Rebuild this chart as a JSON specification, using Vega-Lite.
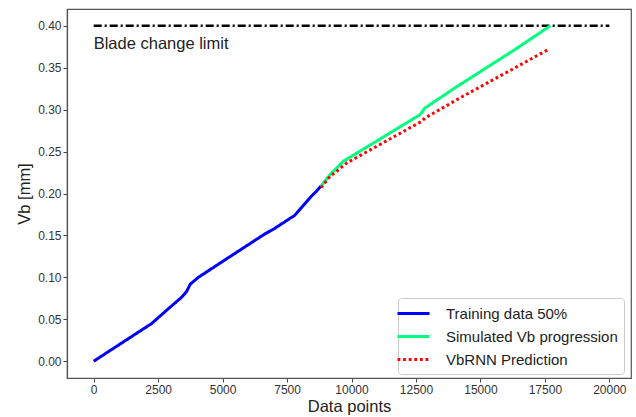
{
  "$schema": "https://vega.github.io/schema/vega-lite/v6.json",
  "width": 564,
  "height": 369,
  "autosize": {"type": "none"},
  "padding": {"left": 67, "top": 9, "right": 5, "bottom": 39},
  "background": "white",
  "config": {
    "font": "Liberation Sans",
    "view": {"stroke": "#555555", "strokeWidth": 1.2},
    "axis": {
      "grid": false,
      "domainColor": "#555555",
      "domainWidth": 1.2,
      "tickColor": "#444444",
      "tickSize": 4,
      "labelColor": "#333333",
      "labelFont": "Liberation Sans",
      "labelFontSize": 12,
      "labelPadding": 2,
      "titleFont": "Liberation Sans",
      "titleFontSize": 16.5,
      "titleFontWeight": "normal",
      "titleColor": "#222222"
    },
    "legend": {
      "labelFont": "Liberation Sans",
      "labelFontSize": 15,
      "labelColor": "#222222",
      "labelLimit": 400
    }
  },
  "datasets": {
    "curves": [
      {"x": 0, "y": 0.0, "series": "Training data 50%"},
      {"x": 1000, "y": 0.020, "series": "Training data 50%"},
      {"x": 2250, "y": 0.045, "series": "Training data 50%"},
      {"x": 2800, "y": 0.060, "series": "Training data 50%"},
      {"x": 3400, "y": 0.076, "series": "Training data 50%"},
      {"x": 3600, "y": 0.083, "series": "Training data 50%"},
      {"x": 3750, "y": 0.092, "series": "Training data 50%"},
      {"x": 4060, "y": 0.100, "series": "Training data 50%"},
      {"x": 5000, "y": 0.119, "series": "Training data 50%"},
      {"x": 6000, "y": 0.139, "series": "Training data 50%"},
      {"x": 6600, "y": 0.151, "series": "Training data 50%"},
      {"x": 7000, "y": 0.158, "series": "Training data 50%"},
      {"x": 7800, "y": 0.174, "series": "Training data 50%"},
      {"x": 8000, "y": 0.181, "series": "Training data 50%"},
      {"x": 8450, "y": 0.197, "series": "Training data 50%"},
      {"x": 8650, "y": 0.203, "series": "Training data 50%"},
      {"x": 8820, "y": 0.209, "series": "Training data 50%"},
      {"x": 8820, "y": 0.209, "series": "Simulated Vb progression"},
      {"x": 9166, "y": 0.2224, "series": "Simulated Vb progression"},
      {"x": 9682, "y": 0.2384, "series": "Simulated Vb progression"},
      {"x": 11000, "y": 0.263, "series": "Simulated Vb progression"},
      {"x": 12657, "y": 0.294, "series": "Simulated Vb progression"},
      {"x": 12851, "y": 0.302, "series": "Simulated Vb progression"},
      {"x": 14014, "y": 0.326, "series": "Simulated Vb progression"},
      {"x": 16342, "y": 0.3717, "series": "Simulated Vb progression"},
      {"x": 17710, "y": 0.400, "series": "Simulated Vb progression"},
      {"x": 8820, "y": 0.207, "series": "VbRNN Prediction"},
      {"x": 9166, "y": 0.2204, "series": "VbRNN Prediction"},
      {"x": 9426, "y": 0.2264, "series": "VbRNN Prediction"},
      {"x": 9814, "y": 0.2364, "series": "VbRNN Prediction"},
      {"x": 12723, "y": 0.2861, "series": "VbRNN Prediction"},
      {"x": 12851, "y": 0.290, "series": "VbRNN Prediction"},
      {"x": 14209, "y": 0.314, "series": "VbRNN Prediction"},
      {"x": 17634, "y": 0.3717, "series": "VbRNN Prediction"}
    ],
    "limit": [
      {"x": 0, "y": 0.4},
      {"x": 20000, "y": 0.4}
    ],
    "label": [
      {"x": 0, "y": 0.378, "text": "Blade change limit"}
    ]
  },
  "layer": [
    {
      "data": {"name": "limit"},
      "mark": {"type": "line", "color": "black", "strokeWidth": 2.6, "strokeDash": [8, 3, 2, 3]},
      "encoding": {
        "x": {"field": "x", "type": "quantitative", "scale": {"domain": [-1035, 20840], "nice": false, "zero": false},
              "axis": {"title": "Data points", "values": [0, 2500, 5000, 7500, 10000, 12500, 15000, 17500, 20000], "format": "d", "titlePadding": 3}},
        "y": {"field": "y", "type": "quantitative", "scale": {"domain": [-0.02, 0.42], "nice": false, "zero": false},
              "axis": {"title": "Vb [mm]", "values": [0, 0.05, 0.1, 0.15, 0.2, 0.25, 0.3, 0.35, 0.4], "format": ".2f", "titlePadding": 5}}
      }
    },
    {
      "data": {"name": "curves"},
      "mark": {"type": "line", "strokeWidth": 3},
      "encoding": {
        "x": {"field": "x", "type": "quantitative"},
        "y": {"field": "y", "type": "quantitative"},
        "color": {
          "field": "series", "type": "nominal",
          "scale": {"domain": ["Training data 50%", "Simulated Vb progression", "VbRNN Prediction"],
                    "range": ["#0000ff", "#00ff7f", "#ff0000"]},
          "legend": {
            "title": null, "orient": "none", "legendX": 331, "legendY": 289,
            "symbolType": "M-2,0H2", "symbolSize": 256, "symbolStrokeWidth": 3,
            "rowPadding": 5, "padding": 6, "labelOffset": 23,
            "fillColor": "white", "strokeColor": "#cccccc", "cornerRadius": 3
          }
        },
        "strokeDash": {
          "field": "series", "type": "nominal",
          "scale": {"domain": ["Training data 50%", "Simulated Vb progression", "VbRNN Prediction"],
                    "range": [[1, 0], [1, 0], [2.8, 2.8]]},
          "legend": {
            "title": null, "orient": "none", "legendX": 331, "legendY": 289,
            "symbolType": "M-2,0H2", "symbolSize": 256, "symbolStrokeWidth": 3,
            "rowPadding": 5, "padding": 6, "labelOffset": 23,
            "fillColor": "white", "strokeColor": "#cccccc", "cornerRadius": 3
          }
        }
      }
    },
    {
      "data": {"name": "label"},
      "mark": {"type": "text", "align": "left", "baseline": "middle", "fontSize": 16.5, "color": "#222222", "font": "Liberation Sans"},
      "encoding": {
        "x": {"field": "x", "type": "quantitative"},
        "y": {"field": "y", "type": "quantitative"},
        "text": {"field": "text"}
      }
    }
  ]
}
